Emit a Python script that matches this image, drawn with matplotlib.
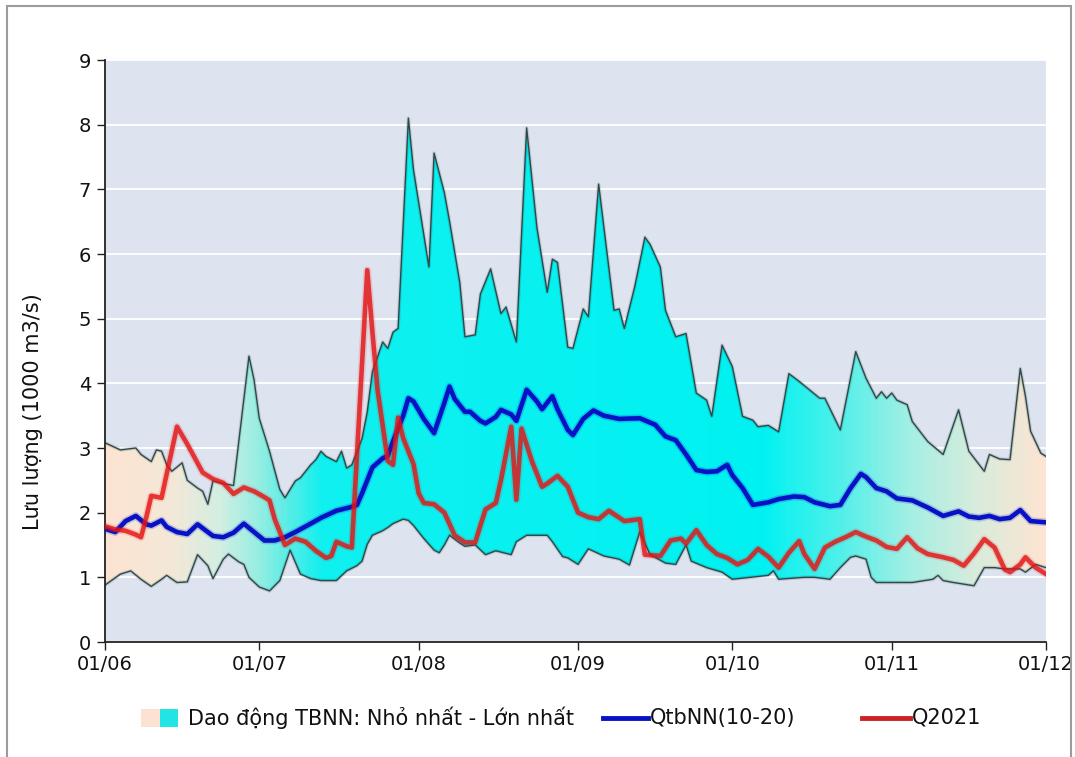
import numpy as np
import matplotlib
matplotlib.use("Agg")
import matplotlib.pyplot as plt
import matplotlib.dates as mdates
import matplotlib.patheffects as pe
from matplotlib.colors import LinearSegmentedColormap
from matplotlib.patches import Rectangle, Polygon
from matplotlib.lines import Line2D

#---------- data (day offset from 01/06/2021, 1000 m3/s) ----------#
start = np.datetime64("2021-06-01")

max_days = [0, 3, 6, 7, 9, 10, 11, 12, 13, 15, 16, 18, 19, 20, 21, 23, 25, 28, 29, 30,
            32, 34, 35, 37, 38, 40, 41, 42, 43, 45, 46, 47, 48, 50, 51, 52, 54, 55, 56, 57,
            59, 60, 63, 64, 66, 67, 69, 70, 72, 73, 75, 77, 78, 80, 82, 84, 86, 87, 88, 90,
            91, 93, 94, 96, 99, 100, 101, 103, 105, 106, 108, 109, 111, 113, 115, 117, 118, 120, 122, 124,
            126, 127, 129, 131, 133, 135, 137, 139, 140, 143, 146, 148, 150, 151, 152, 153, 154, 156, 157, 160,
            163, 166, 168, 171, 172, 174, 176, 178, 179, 180, 182, 183]
max_vals = [3.08, 2.97, 3.00, 2.90, 2.79, 2.97, 2.95, 2.74, 2.64, 2.77, 2.50, 2.38, 2.33, 2.13, 2.49, 2.45, 2.42, 4.42, 4.05, 3.46,
            2.95, 2.36, 2.23, 2.49, 2.54, 2.74, 2.82, 2.95, 2.87, 2.79, 2.95, 2.69, 2.74, 3.15, 3.56, 4.18, 4.64, 4.54, 4.79, 4.85,
            8.10, 7.30, 5.80, 7.56, 6.95, 6.51, 5.56, 4.72, 4.75, 5.38, 5.77, 5.08, 5.18, 4.64, 7.95, 6.41, 5.41, 5.92, 5.87, 4.56,
            4.54, 5.15, 5.03, 7.08, 5.13, 5.15, 4.85, 5.49, 6.26, 6.15, 5.80, 5.13, 4.72, 4.77, 3.85, 3.74, 3.49, 4.59, 4.26, 3.49,
            3.43, 3.33, 3.35, 3.25, 4.15, 4.03, 3.90, 3.77, 3.77, 3.28, 4.49, 4.08, 3.77, 3.87, 3.77, 3.85, 3.74, 3.67, 3.41, 3.10,
            2.90, 3.59, 2.95, 2.64, 2.90, 2.83, 2.82, 4.23, 3.80, 3.26, 2.92, 2.87]

min_days = [0, 3, 5, 7, 9, 11, 12, 14, 16, 18, 20, 21, 23, 24, 26, 27, 28, 30, 32, 34,
            36, 38, 40, 42, 45, 47, 49, 50, 51, 52, 54, 55, 56, 58, 59, 60, 62, 64, 65, 66,
            67, 69, 70, 72, 74, 76, 79, 80, 82, 86, 87, 89, 90, 92, 94, 97, 100, 102, 104, 106,
            109, 111, 113, 114, 117, 120, 122, 129, 130, 131, 136, 138, 141, 143, 145, 146, 148, 149, 150, 157,
            161, 162, 163, 165, 169, 171, 173, 175, 178, 179, 181, 183]
min_vals = [0.88, 1.05, 1.10, 0.97, 0.86, 0.97, 1.03, 0.92, 0.93, 1.35, 1.18, 0.98, 1.28, 1.36, 1.24, 1.20, 1.00, 0.85, 0.79, 0.95,
            1.42, 1.05, 0.98, 0.95, 0.95, 1.10, 1.18, 1.25, 1.51, 1.65, 1.72, 1.77, 1.83, 1.90, 1.88, 1.80, 1.60, 1.42, 1.38, 1.50,
            1.65, 1.53, 1.48, 1.50, 1.35, 1.41, 1.35, 1.55, 1.65, 1.65, 1.55, 1.32, 1.30, 1.20, 1.44, 1.33, 1.28, 1.19, 1.70, 1.35,
            1.22, 1.20, 1.50, 1.25, 1.15, 1.08, 0.97, 1.03, 1.10, 0.97, 1.00, 1.00, 0.97, 1.15, 1.31, 1.33, 1.28, 1.00, 0.92, 0.92,
            0.97, 1.03, 0.95, 0.92, 0.87, 1.15, 1.15, 1.13, 1.13, 1.08, 1.20, 1.15]

# QtbNN(10-20)
blue_days = [0, 2, 4, 6, 8, 9, 11, 12, 14, 16, 18, 19, 21, 23, 25, 27, 29, 31, 33, 35,
             37, 40, 42, 45, 48, 49, 50, 51, 52, 54, 55, 56, 58, 59, 60, 62, 64, 66, 67, 68,
             70, 71, 73, 74, 76, 77, 79, 80, 82, 84, 85, 87, 88, 90, 91, 93, 95, 97, 100, 104,
             107, 109, 111, 113, 115, 117, 119, 121, 122, 124, 126, 129, 131, 134, 136, 138, 141, 143, 145, 147,
             148, 150, 152, 154, 157, 160, 163, 166, 168, 170, 172, 174, 176, 178, 180, 183]
blue_vals = [1.75, 1.70, 1.87, 1.95, 1.82, 1.80, 1.88, 1.78, 1.70, 1.67, 1.82, 1.76, 1.64, 1.62, 1.69, 1.83, 1.70, 1.57, 1.57, 1.62,
             1.70, 1.83, 1.92, 2.03, 2.09, 2.12, 2.30, 2.50, 2.70, 2.84, 2.88, 3.10, 3.50, 3.77, 3.72, 3.45, 3.23, 3.70, 3.95, 3.76,
             3.56, 3.56, 3.42, 3.38, 3.48, 3.59, 3.52, 3.42, 3.90, 3.72, 3.60, 3.80, 3.60, 3.28, 3.20, 3.45, 3.58, 3.50, 3.45, 3.46,
             3.36, 3.18, 3.12, 2.90, 2.66, 2.63, 2.64, 2.74, 2.58, 2.38, 2.12, 2.16, 2.21, 2.25, 2.24, 2.16, 2.10, 2.12, 2.38, 2.60,
             2.55, 2.38, 2.33, 2.22, 2.19, 2.08, 1.95, 2.02, 1.94, 1.92, 1.95, 1.90, 1.92, 2.04, 1.87, 1.85]

# Q2021
red_days = [0, 2, 4, 6, 7, 8, 9, 11, 12, 14, 16, 19, 21, 23, 25, 27, 29, 31, 32, 33,
            35, 37, 39, 41, 43, 44, 45, 47, 48, 51, 52, 53, 55, 56, 57, 58, 60, 61, 62,
            64, 66, 68, 70, 72, 73, 74, 76, 77, 79, 80, 81, 83, 85, 86, 88, 90, 91, 92, 94,
            96, 98, 101, 104, 105, 108, 110, 112, 113, 115, 117, 119, 121, 123, 125, 127, 129, 131, 133, 135,
            136, 138, 140, 142, 144, 146, 148, 150, 152, 154, 156, 158, 160, 163, 165, 167, 169, 171, 173, 175,
            176, 178, 179, 181, 183]
red_vals = [1.79, 1.74, 1.72, 1.66, 1.62, 1.92, 2.26, 2.23, 2.60, 3.33, 3.06, 2.62, 2.52, 2.46, 2.29, 2.39, 2.33, 2.24, 2.19, 1.90,
            1.50, 1.60, 1.55, 1.41, 1.30, 1.33, 1.55, 1.48, 1.46, 5.75, 4.80, 3.90, 2.80, 2.74, 3.47, 3.15, 2.75, 2.30, 2.15,
            2.13, 2.00, 1.65, 1.54, 1.54, 1.80, 2.05, 2.15, 2.50, 3.33, 2.20, 3.30, 2.80, 2.40, 2.45, 2.57, 2.40, 2.20, 2.00, 1.93,
            1.90, 2.03, 1.87, 1.90, 1.35, 1.33, 1.57, 1.60, 1.52, 1.73, 1.50, 1.36, 1.30, 1.20, 1.27, 1.44, 1.32, 1.15, 1.38, 1.56,
            1.36, 1.13, 1.46, 1.55, 1.62, 1.70, 1.63, 1.57, 1.47, 1.44, 1.62, 1.45, 1.36, 1.31, 1.27, 1.18, 1.37, 1.59, 1.46, 1.12,
            1.08, 1.20, 1.31, 1.15, 1.05]

y_ticks = [0, 1, 2, 3, 4, 5, 6, 7, 8, 9]
y_label = "Lưu lượng (1000 m3/s)"
legend_labels = ["Dao động TBNN: Nhỏ nhất - Lớn nhất", "QtbNN(10-20)", "Q2021"]

def to_dates(days):
    return start + np.array(days).astype("timedelta64[D]")

#---------- figure ----------#
plt.rcParams["font.family"] = ["DejaVu Sans"]
W, H = 1075, 757
fig = plt.figure(figsize=(W / 100, H / 100), dpi=100)
fig.patch.set_facecolor("white")
ax = fig.add_axes([105 / W, 1 - 642 / H, 941 / W, 582 / H])
ax.set_facecolor("#dde3ef")

x0 = mdates.date2num(start)
x1 = mdates.date2num(start + np.timedelta64(183, "D"))
ax.set_xlim(x0, x1)
ax.set_ylim(0, 9)

ax.set_axisbelow(True)
ax.yaxis.grid(True, color="white", lw=1.3, zorder=0.5)

# range band: gradient image clipped to the min/max polygon
px = np.r_[mdates.date2num(to_dates(max_days)), mdates.date2num(to_dates(min_days))[::-1]]
py = np.r_[max_vals, min_vals[::-1]]
band = Polygon(np.column_stack([px, py]), closed=True, facecolor="none", edgecolor="none")
ax.add_patch(band)
cmap = LinearSegmentedColormap.from_list("band", [
    (0.00, "#fde4d2"), (0.07, "#f3e8d8"), (0.12, "#d2efe2"), (0.16, "#98ede2"),
    (0.19, "#5eede6"), (0.23, "#10f0f0"), (0.70, "#00f2f2"), (0.78, "#4ef0ea"),
    (0.86, "#a6efe4"), (0.93, "#d9ecdc"), (1.00, "#fde4d2")])
grad = ax.imshow(np.linspace(0, 1, 400).reshape(1, -1), cmap=cmap, aspect="auto",
                 extent=[x0, x1, 0, 9], origin="lower", zorder=1, interpolation="bilinear")
grad.set_clip_path(band)

edge_fx = [pe.Stroke(linewidth=2.6, foreground="#000000", alpha=0.12), pe.Normal()]
ax.plot(to_dates(max_days), max_vals, color="#2c4a4a", lw=1.0, zorder=2, path_effects=edge_fx)
ax.plot(to_dates(min_days), min_vals, color="#2c4a4a", lw=1.0, zorder=2, path_effects=edge_fx)

blue_c = "#0712c4"
red_c = "#e41414"
ax.plot(to_dates(blue_days), blue_vals, color=blue_c, lw=3.3, zorder=3, solid_joinstyle="round",
        path_effects=[pe.Stroke(linewidth=5.5, foreground=blue_c, alpha=0.2), pe.Normal()])
ax.plot(to_dates(red_days), red_vals, color=red_c, lw=3.3, alpha=0.82, zorder=4, solid_joinstyle="round",
        path_effects=[pe.Stroke(linewidth=5.5, foreground=red_c, alpha=0.15), pe.Normal()])

ax.set_yticks(y_ticks)
ax.xaxis.set_major_locator(mdates.MonthLocator())
ax.xaxis.set_major_formatter(mdates.DateFormatter("%d/%m"))
ax.tick_params(axis="both", direction="out", length=6, width=1, color="#222222",
               labelsize=14, labelcolor="#111111")
ax.tick_params(axis="x", pad=3)
ax.tick_params(axis="y", pad=4)
for s in ["top", "right"]:
    ax.spines[s].set_visible(False)
for s in ["left", "bottom"]:
    ax.spines[s].set_color("#222222")
    ax.spines[s].set_linewidth(1.3)

fig.text(33 / W, 1 - 412 / H, y_label, rotation=90, ha="center", va="center",
         fontsize=15, color="#111111")

# legend, laid out by hand along the bottom
ly = 1 - 718 / H
fig.patches.append(Rectangle((141 / W, ly - 9 / H), 19 / W, 18 / H, transform=fig.transFigure,
                             facecolor="#fbe2d2", edgecolor="none"))
fig.patches.append(Rectangle((160 / W, ly - 9 / H), 18 / W, 18 / H, transform=fig.transFigure,
                             facecolor="#22e4e4", edgecolor="none"))
fig.text(188 / W, ly, legend_labels[0], ha="left", va="center", fontsize=15, color="#111111")
fig.lines.append(Line2D([603 / W, 648 / W], [ly, ly], transform=fig.transFigure, color=blue_c, lw=3.5))
fig.text(650 / W, ly, legend_labels[1], ha="left", va="center", fontsize=15, color="#111111")
fig.lines.append(Line2D([862 / W, 910 / W], [ly, ly], transform=fig.transFigure, color="#cc2222", lw=3.5))
fig.text(912 / W, ly, legend_labels[2], ha="left", va="center", fontsize=15, color="#111111")

# outer frame
fig.patches.append(Rectangle((7 / W, -0.05), 1064 / W, 1.05 - 6 / H, transform=fig.transFigure,
                             fill=False, edgecolor="#9c9c9c", lw=1.5))

fig.savefig("out.png", dpi=100)
